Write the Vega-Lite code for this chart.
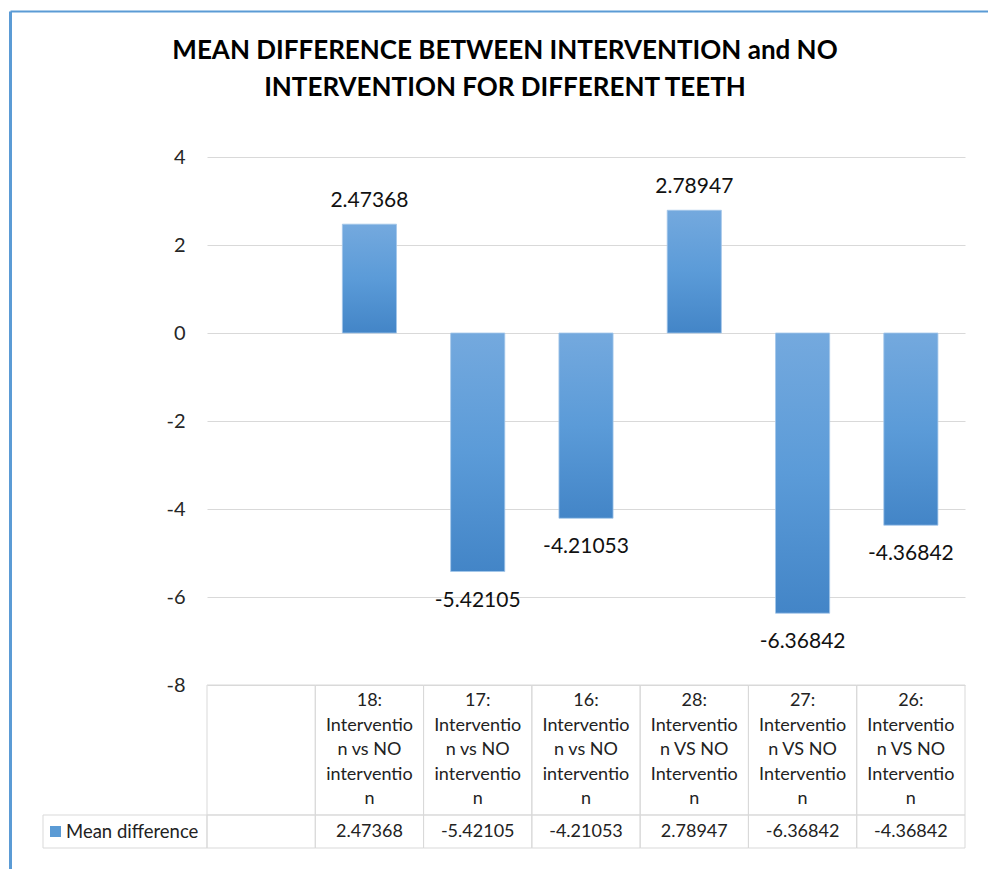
{
  "$schema": "https://vega.github.io/schema/vega-lite/v6.json",
  "width": 978,
  "height": 858,
  "padding": {"left": 10, "top": 11, "right": 0, "bottom": 0},
  "autosize": {"type": "none"},
  "background": "white",
  "title": {
    "text": ["MEAN DIFFERENCE BETWEEN INTERVENTION and NO", "INTERVENTION FOR DIFFERENT TEETH"],
    "font": "Lato",
    "fontSize": 26,
    "fontWeight": "bold",
    "color": "#000000",
    "lineHeight": 37,
    "anchor": "middle",
    "frame": "group",
    "offset": -93,
    "dx": 6
  },
  "config": {"view": {"stroke": null}, "font": "Lato"},
  "datasets": {
    "teeth": [
      {"tooth": "blank", "lines": [], "value": null},
      {"tooth": "18", "lines": ["18:", "Interventio", "n vs NO", "interventio", "n"], "value": 2.47368},
      {"tooth": "17", "lines": ["17:", "Interventio", "n vs NO", "interventio", "n"], "value": -5.42105},
      {"tooth": "16", "lines": ["16:", "Interventio", "n vs NO", "interventio", "n"], "value": -4.21053},
      {"tooth": "28", "lines": ["28:", "Interventio", "n VS NO", "Interventio", "n"], "value": 2.78947},
      {"tooth": "27", "lines": ["27:", "Interventio", "n VS NO", "Interventio", "n"], "value": -6.36842},
      {"tooth": "26", "lines": ["26:", "Interventio", "n VS NO", "Interventio", "n"], "value": -4.36842}
    ],
    "frame": [{"f": 0}, {"f": 1}],
    "legend": [{"series": "Mean difference"}]
  },
  "layer": [
    {
      "data": {"name": "frame"},
      "mark": {"type": "point", "opacity": 0},
      "encoding": {
        "x": {"field": "f", "type": "quantitative", "scale": {"domain": [0, 1], "nice": false, "zero": false},
          "axis": {"orient": "top", "domain": true, "domainColor": "#5B9BD5", "domainWidth": 2, "ticks": false, "labels": false, "grid": false, "title": null}},
        "y": {"field": "f", "type": "quantitative", "scale": {"domain": [0, 1], "nice": false, "zero": false},
          "axis": {"orient": "left", "domain": true, "domainColor": "#5B9BD5", "domainWidth": 3, "ticks": false, "labels": false, "grid": false, "title": null}}
      }
    },
    {
      "data": {"name": "teeth"},
      "encoding": {
        "x": {"field": "tooth", "type": "nominal",
          "scale": {"domain": ["blank", "18", "17", "16", "28", "27", "26"], "range": [197, 955], "paddingInner": 0.5, "paddingOuter": 0.25},
          "axis": null},
        "y": {"field": "value", "type": "quantitative",
          "scale": {"domain": [-8, 4], "range": [674, 146], "nice": false, "zero": false},
          "axis": {"orient": "left", "offset": -197, "values": [-8, -6, -4, -2, 0, 2, 4], "grid": true, "gridColor": "#D9D9D9", "gridWidth": 1,
            "domain": false, "ticks": false, "labelFontSize": 20, "labelColor": "#262626", "labelPadding": 22, "labelFont": "Lato",
            "labelExpr": "replace(datum.label, '\u2212', '-')", "title": null}}
      },
      "layer": [
        {"mark": {"type": "bar", "stroke": "#A3C6EA", "strokeWidth": 0.8,
          "color": {"gradient": "linear", "x1": 0, "y1": 0, "x2": 0, "y2": 1,
            "stops": [{"offset": 0, "color": "#74A9DE"}, {"offset": 0.5, "color": "#5B9BD8"}, {"offset": 1, "color": "#4385C7"}]}}},
        {"transform": [{"filter": "datum.value > 0"}],
          "mark": {"type": "text", "baseline": "alphabetic", "dy": -17, "fontSize": 21, "color": "#111111"},
          "encoding": {"text": {"field": "value", "type": "nominal"}}},
        {"transform": [{"filter": "datum.value < 0"}],
          "mark": {"type": "text", "baseline": "top", "dy": 18, "fontSize": 21, "color": "#111111"},
          "encoding": {"text": {"field": "value", "type": "nominal"}}}
      ]
    },
    {
      "data": {"name": "teeth"},
      "encoding": {
        "x": {"field": "tooth", "type": "nominal",
          "scale": {"domain": ["blank", "18", "17", "16", "28", "27", "26"], "range": [197, 955], "paddingInner": 0, "paddingOuter": 0},
          "axis": null},
        "y": {"datum": "header", "type": "nominal",
          "scale": {"domain": ["header"], "range": [674, 804], "paddingInner": 0, "paddingOuter": 0}, "axis": null}
      },
      "layer": [
        {"mark": {"type": "rect", "fill": "transparent", "stroke": "#D9D9D9", "strokeWidth": 1}},
        {"transform": [{"filter": "isValid(datum.value)"}],
          "mark": {"type": "text", "fontSize": 18, "lineHeight": 24.5, "baseline": "middle", "dy": -49, "color": "#222222"},
          "encoding": {"text": {"field": "lines", "type": "nominal"}}}
      ]
    },
    {
      "data": {"name": "teeth"},
      "encoding": {
        "x": {"field": "tooth", "type": "nominal",
          "scale": {"domain": ["blank", "18", "17", "16", "28", "27", "26"], "range": [197, 955], "paddingInner": 0, "paddingOuter": 0},
          "axis": null},
        "y": {"datum": "value", "type": "nominal",
          "scale": {"domain": ["value"], "range": [804, 837], "paddingInner": 0, "paddingOuter": 0}, "axis": null}
      },
      "layer": [
        {"mark": {"type": "rect", "fill": "transparent", "stroke": "#D9D9D9", "strokeWidth": 1}},
        {"transform": [{"filter": "isValid(datum.value)"}],
          "mark": {"type": "text", "fontSize": 18, "baseline": "middle", "color": "#222222"},
          "encoding": {"text": {"field": "value", "type": "nominal"}}}
      ]
    },
    {
      "data": {"name": "legend"},
      "encoding": {
        "x": {"field": "series", "type": "nominal",
          "scale": {"domain": ["Mean difference"], "range": [33, 197], "paddingInner": 0, "paddingOuter": 0},
          "axis": null},
        "y": {"datum": "value", "type": "nominal",
          "scale": {"domain": ["value"], "range": [804, 837], "paddingInner": 0, "paddingOuter": 0}, "axis": null}
      },
      "layer": [
        {"mark": {"type": "rect", "fill": "transparent", "stroke": "#D9D9D9", "strokeWidth": 1}},
        {"mark": {"type": "point", "shape": "square", "filled": true, "size": 121, "color": "#5B9BD5", "opacity": 1, "xOffset": 12.5},
          "encoding": {"x": {"field": "series", "type": "nominal", "bandPosition": 0,
            "scale": {"domain": ["Mean difference"], "range": [33, 197], "paddingInner": 0, "paddingOuter": 0}, "axis": null}}},
        {"mark": {"type": "text", "align": "left", "dx": 23, "fontSize": 18.5, "color": "#222222", "baseline": "middle"},
          "encoding": {"x": {"field": "series", "type": "nominal", "bandPosition": 0,
            "scale": {"domain": ["Mean difference"], "range": [33, 197], "paddingInner": 0, "paddingOuter": 0}, "axis": null},
            "text": {"field": "series", "type": "nominal"}}}
      ]
    }
  ],
  "resolve": {"scale": {"x": "independent", "y": "independent"}, "axis": {"x": "independent", "y": "independent"}}
}
